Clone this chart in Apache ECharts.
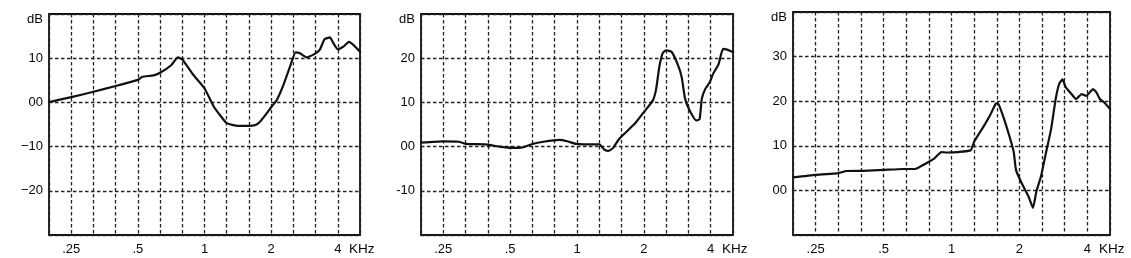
<!DOCTYPE html>
<html><head><meta charset="utf-8">
<script src="https://cdn.jsdelivr.net/npm/echarts@6/dist/echarts.min.js"></script>
<style>html,body{margin:0;padding:0;background:#fff}#c{width:1131px;height:258px}</style>
</head><body><div id="c"></div>
<script>
// X axis ticks (kHz), one grid line per 1/3 octave
const freqTicks = [0.25, 0.5, 1, 2, 4];
const freqTickLabels = ['.25', '.5', '1', '2', '4'];
const freqUnit = 'KHz';
const freqMin = 0.1985;
const freqMax = 5.039;

// Panel 1
const freq1 = [0.1985,0.217,0.256,0.315,0.397,0.5,0.524,0.588,0.63,0.707,0.758,0.794,0.891,1.0,1.097,1.176,1.26,1.414,1.587,1.701,1.781,1.909,2.0,2.119,2.271,2.434,2.579,2.701,2.895,3.175,3.325,3.482,3.689,3.82,4.0,4.238,4.49,4.702,5.03];
const db1   = [0.1,0.5,1.3,2.4,3.7,5.1,5.8,6.1,6.7,8.4,10.2,9.7,6.2,3.2,-0.8,-2.9,-4.7,-5.3,-5.3,-5.1,-4.4,-2.5,-1.1,0.5,3.9,8.1,11.3,11.1,10.2,11.1,12.0,14.3,14.7,13.4,12.0,12.6,13.7,13.0,11.5];
const yTicks1 = [20, 10, 0, -10, -20, -30];
const yTickLabels1 = ['dB', '10', '00', '\u221210', '\u221220', ''];

// Panel 2
const freq2 = [0.1985,0.25,0.294,0.315,0.388,0.446,0.512,0.561,0.63,0.707,0.832,0.902,0.989,1.072,1.26,1.32,1.382,1.447,1.551,1.823,2.0,2.194,2.271,2.351,2.434,2.52,2.67,2.861,2.963,3.067,3.212,3.442,3.564,3.647,3.776,3.954,4.094,4.337,4.542,4.702,5.03];
const db2   = [0.9,1.2,1.1,0.6,0.5,0.0,-0.3,-0.25,0.6,1.1,1.5,1.2,0.6,0.5,0.5,-0.55,-1.0,-0.4,1.8,5.2,7.8,10.4,13.0,18.2,21.2,21.8,21.4,18.2,15.6,10.8,8.2,5.9,6.2,10.8,13.0,14.5,16.4,18.6,22.1,22.0,21.4];
const yTicks2 = [30, 20, 10, 0, -10, -20];
const yTickLabels2 = ['dB', '20', '10', '00', '-10', ''];

// Panel 3
const freq3 = [0.1985,0.25,0.311,0.322,0.342,0.406,0.5,0.609,0.691,0.749,0.841,0.902,0.955,1.072,1.217,1.26,1.382,1.481,1.569,1.605,1.681,1.802,1.887,1.931,2.047,2.194,2.297,2.378,2.491,2.609,2.764,2.895,2.997,3.102,3.212,3.403,3.564,3.776,3.954,4.238,4.387,4.542,4.757,5.03];
const db3   = [2.9,3.5,3.8,4.0,4.35,4.4,4.6,4.8,4.8,5.7,7.2,8.6,8.5,8.6,9.0,10.9,14.2,16.8,19.4,19.6,17.1,12.3,8.6,4.6,1.6,-1.35,-3.9,-0.2,3.1,7.9,13.8,20.5,23.8,24.9,23.1,21.6,20.5,21.6,21.2,22.7,22.0,20.5,19.7,18.3];
const yTicks3 = [40, 30, 20, 10, 0, -10];
const yTickLabels3 = ['dB', '30', '20', '10', '00', ''];

const panels = [
  {freq: freq1, db: db1, yTicks: yTicks1, yLabels: yTickLabels1, min: -30, max: 20},
  {freq: freq2, db: db2, yTicks: yTicks2, yLabels: yTickLabels2, min: -20, max: 30},
  {freq: freq3, db: db3, yTicks: yTicks3, yLabels: yTickLabels3, min: -10, max: 40}
];
const gridBoxes = [
  {left: 49, top: 14, width: 311, height: 221},
  {left: 421, top: 14, width: 312, height: 221},
  {left: 793, top: 12, width: 317, height: 223}
];

const third = f => 3 * Math.log2(f); // position in 1/3-octave steps from 1 kHz
const FONT = '"Liberation Sans", Arial, Helvetica, sans-serif';
const TXT = '#080808';
const gridLine = {show: true, lineStyle: {color: '#222', width: 1.3, type: [3.5, 2.5]}};

const option = {
  backgroundColor: '#fff',
  animation: false,
  grid: gridBoxes.map(g => Object.assign({show: true, borderColor: '#111', borderWidth: 1.8, backgroundColor: 'transparent'}, g)),
  xAxis: panels.map((p, i) => ({
    type: 'value', gridIndex: i, position: 'bottom',
    min: Math.round(third(freqMin)), max: Math.round(third(freqMax)), interval: 1,
    axisLine: {show: false, onZero: false}, axisTick: {show: false},
    splitLine: gridLine,
    axisLabel: {
      margin: 8, color: TXT, fontSize: 13, fontFamily: FONT,
      showMinLabel: false, showMaxLabel: false,
      formatter: v => {
        const k = freqTicks.findIndex(f => Math.abs(third(f) - v) < 0.01);
        return k >= 0 ? freqTickLabels[k] : '';
      }
    },
    name: freqUnit, nameLocation: 'end', nameGap: -11,
    nameTextStyle: {color: TXT, fontSize: 13.5, fontFamily: FONT, align: 'left', verticalAlign: 'top', padding: [7, 0, 0, 0]}
  })),
  yAxis: panels.map((p, i) => ({
    type: 'value', gridIndex: i, min: p.min, max: p.max, interval: 10,
    axisLine: {show: false}, axisTick: {show: false},
    splitLine: gridLine,
    axisLabel: {
      margin: 6, color: TXT, fontSize: 13, fontFamily: FONT,
      formatter: v => {
        const k = p.yTicks.indexOf(v);
        const s = k >= 0 ? p.yLabels[k] : '';
        return s === 'dB' ? '{d|dB}' : s;
      },
      rich: {d: {padding: [10, 0, 0, 0], fontSize: 13, fontFamily: FONT, color: TXT}}
    }
  })),
  series: panels.map((p, i) => ({
    type: 'line', xAxisIndex: i, yAxisIndex: i,
    data: p.freq.map((f, j) => [third(f), p.db[j]]),
    showSymbol: false, smooth: 0.15,
    lineStyle: {color: '#111', width: 2.2, join: 'round', cap: 'round'}
  }))
};
const chart = echarts.init(document.getElementById('c'), null, {renderer: 'canvas'});
chart.setOption(option);
</script></body></html>
